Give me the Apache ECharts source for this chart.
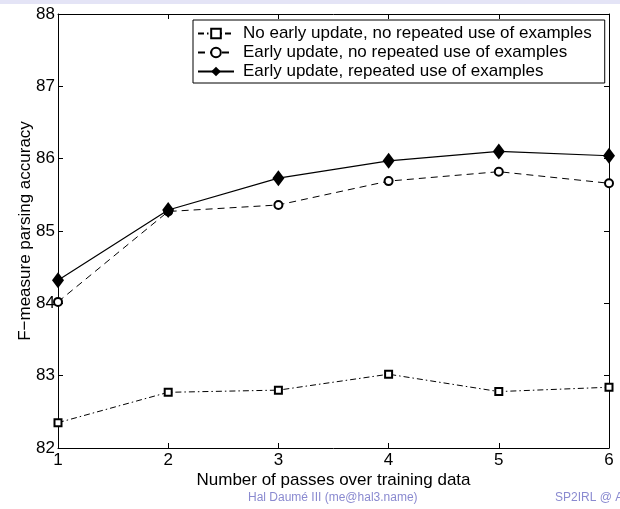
<!DOCTYPE html>
<html>
<head>
<meta charset="utf-8">
<script src="https://cdn.jsdelivr.net/npm/echarts@6/dist/echarts.min.js"></script>
<style>html,body{margin:0;padding:0;background:#fff}#c{width:620px;height:509px}</style>
</head>
<body>
<div id="c"></div>
<script>
const passes = [1, 2, 3, 4, 5, 6];
const noEarlyNoRepeat = [82.35, 82.77, 82.80, 83.02, 82.78, 82.84];
const earlyNoRepeat = [84.02, 85.27, 85.36, 85.69, 85.82, 85.66];
const earlyRepeat = [84.32, 85.29, 85.73, 85.97, 86.10, 86.04];
const seriesNames = [
  'No early update, no repeated use of examples',
  'Early update, no repeated use of examples',
  'Early update, repeated use of examples'
];
const yTicks = [82, 83, 84, 85, 86, 87, 88];
const xTicks = [1, 2, 3, 4, 5, 6];

const FONT = 'Liberation Sans, Arial, Helvetica, sans-serif';
const pair = (vals) => passes.map((p, i) => [p, vals[i]]);

const chart = echarts.init(document.getElementById('c'), null, {renderer: 'canvas'});
const axisCommon = {
  axisLine: {show: true, lineStyle: {color: '#000', width: 1}},
  axisTick: {show: true, inside: true, length: 5, lineStyle: {color: '#000'}},
  splitLine: {show: false}
};
chart.setOption({
  animation: false,
  backgroundColor: '#fff',
  grid: {left: 58, right: 11, top: 14, bottom: 61},
  legend: {
    orient: 'vertical',
    left: 193, top: 20,
    padding: [5, 13, 3, 4],
    itemGap: 2,
    itemWidth: 36, itemHeight: 12,
    borderColor: '#000', borderWidth: 1,
    backgroundColor: '#fff',
    textStyle: {color: '#000', fontSize: 17, fontFamily: FONT, padding: [0, 0, 0, 4]},
    data: seriesNames
  },
  xAxis: [
    Object.assign({}, axisCommon, {
      type: 'value', min: 1, max: 6, interval: 1, position: 'bottom',
      name: 'Number of passes over training data',
      nameLocation: 'middle', nameGap: 24, nameMoveOverlap: false,
      nameTextStyle: {color: '#000', fontSize: 17, fontFamily: FONT},
      axisLabel: {color: '#000', fontSize: 17, fontFamily: FONT, margin: 4,
        customValues: xTicks, formatter: v => String(v)}
    }),
    Object.assign({}, axisCommon, {
      type: 'value', min: 1, max: 6, interval: 1, position: 'top',
      axisLabel: {show: false}
    })
  ],
  yAxis: [
    Object.assign({}, axisCommon, {
      type: 'value', min: 82, max: 88, interval: 1, position: 'left',
      name: 'F\u2212measure parsing accuracy',
      nameLocation: 'middle', nameGap: 24, nameMoveOverlap: false,
      nameTextStyle: {color: '#000', fontSize: 17, fontFamily: FONT},
      axisLabel: {color: '#000', fontSize: 17, fontFamily: FONT, margin: 3,
        customValues: yTicks, formatter: v => String(v)}
    }),
    Object.assign({}, axisCommon, {
      type: 'value', min: 82, max: 88, interval: 1, position: 'right',
      axisLabel: {show: false}
    })
  ],
  series: [
    {
      name: seriesNames[0], type: 'line', data: pair(noEarlyNoRepeat),
      symbol: 'emptyRect', symbolSize: 7,
      lineStyle: {color: '#000', width: 1, type: [6, 3, 1.5, 3]},
      itemStyle: {color: '#000', borderColor: '#000', borderWidth: 1}
    },
    {
      name: seriesNames[1], type: 'line', data: pair(earlyNoRepeat),
      symbol: 'emptyCircle', symbolSize: 8,
      lineStyle: {color: '#000', width: 1, type: [7, 5]},
      itemStyle: {color: '#000', borderColor: '#000', borderWidth: 1}
    },
    {
      name: seriesNames[2], type: 'line', data: pair(earlyRepeat),
      symbol: 'diamond', symbolSize: [12, 16],
      lineStyle: {color: '#000', width: 1.2, type: 'solid'},
      itemStyle: {color: '#000'}
    }
  ],
  graphic: [
    {type: 'rect', left: 0, top: 0, shape: {width: 620, height: 4}, style: {fill: '#e4e4f6'}, silent: true},
    {type: 'text', left: 248, top: 492, style: {text: 'Hal Daum\u00e9 III (me@hal3.name)', fill: '#8a8ad0', font: '12px ' + FONT}},
    {type: 'text', left: 555, top: 492, style: {text: 'SP2IRL @ ACL', fill: '#8a8ad0', font: '12px ' + FONT}}
  ]
});
</script>
</body>
</html>
